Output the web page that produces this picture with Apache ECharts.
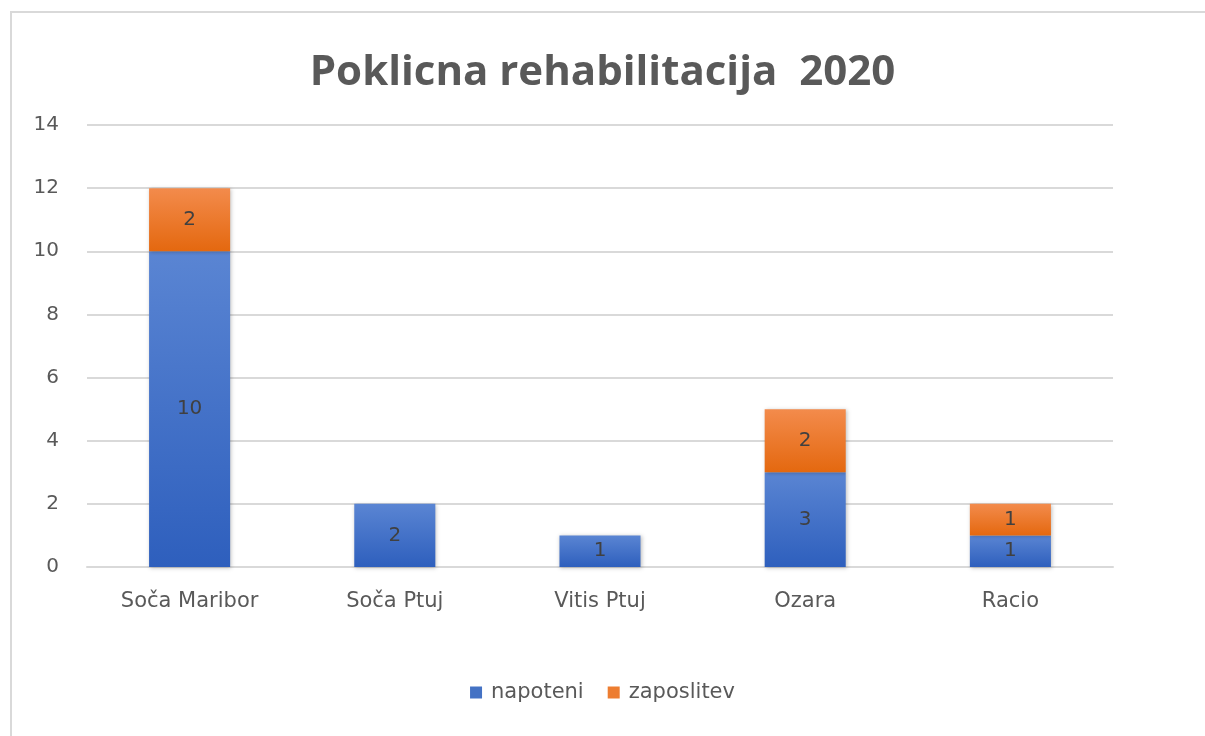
<!DOCTYPE html>
<html lang="sl">
<head>
  <meta charset="UTF-8">
  <title>Poklicna rehabilitacija 2020</title>
  <script src="https://cdn.jsdelivr.net/npm/echarts@6/dist/echarts.min.js"></script>
</head>
<style>
  body { margin: 0; background: #fff; }
  #frame {
    position: absolute; left: 10px; top: 11px;
    width: 1220px; height: 760px;
    border: 2px solid #d9d9d9;
  }
  #main { position: absolute; left: 0; top: 0; width: 1205px; height: 736px; }
</style>
<body>
<div id="frame"></div>
<div id="main"></div>
<script>
  // podatki
  var kategorije = ['Soča Maribor', 'Soča Ptuj', 'Vitis Ptuj', 'Ozara', 'Racio'];
  var napoteni = [10, 2, 1, 3, 1];
  var zaposlitev = [2, null, null, 2, 1];
  var yTicks = { min: 0, max: 14, interval: 2 };

  function grad(top, bottom) {
    return new echarts.graphic.LinearGradient(0, 0, 0, 1, [
      { offset: 0, color: top },
      { offset: 1, color: bottom }
    ]);
  }

  var myChart = echarts.init(document.getElementById('main'));
  var font = '"Open Sans", "DejaVu Sans", sans-serif';
  var wide = '"DejaVu Sans", sans-serif';
  var lbl = { show: true, position: 'inside', color: '#404040', fontSize: 20, fontFamily: wide };

  myChart.setOption({
    animation: false,
    title: {
      text: 'Poklicna rehabilitacija  2020',
      left: 'center', top: 47,
      textStyle: { fontSize: 42, fontWeight: 'bold', color: '#595959', fontFamily: font }
    },
    legend: {
      bottom: 28, left: 'center',
      icon: 'rect',
      itemWidth: 12, itemHeight: 12, itemGap: 24,
      textStyle: { fontSize: 21, color: '#595959', fontFamily: wide, padding: [0, 0, 0, 4] },
      data: [
        { name: 'napoteni', itemStyle: { color: '#4472c4' } },
        { name: 'zaposlitev', itemStyle: { color: '#ed7d31' } }
      ]
    },
    grid: { left: 87, right: 92, top: 125, bottom: 169 },
    xAxis: {
      type: 'category',
      data: kategorije,
      axisLine: { lineStyle: { color: '#d9d9d9', width: 2 } },
      axisTick: { show: false },
      axisLabel: { color: '#595959', fontSize: 21, margin: 24, fontFamily: wide }
    },
    yAxis: {
      type: 'value',
      min: yTicks.min, max: yTicks.max, interval: yTicks.interval,
      axisLine: { show: false },
      axisTick: { show: false },
      splitLine: { lineStyle: { color: '#d9d9d9', width: 2 } },
      axisLabel: { color: '#595959', fontSize: 20, margin: 28, fontFamily: wide }
    },
    series: [
      {
        name: 'napoteni', type: 'bar', stack: 'a', barWidth: '39.5%',
        data: napoteni,
        label: lbl,
        itemStyle: { color: grad('#5a85d3', '#2e5fbd'), shadowBlur: 4, shadowColor: 'rgba(0,0,0,0.25)', shadowOffsetX: 1, shadowOffsetY: 1 }
      },
      {
        name: 'zaposlitev', type: 'bar', stack: 'a',
        data: zaposlitev,
        label: lbl,
        itemStyle: { color: grad('#f38b4c', '#e4680f'), shadowBlur: 4, shadowColor: 'rgba(0,0,0,0.25)', shadowOffsetX: 1, shadowOffsetY: 1 }
      }
    ]
  });
</script>
</body>
</html>
